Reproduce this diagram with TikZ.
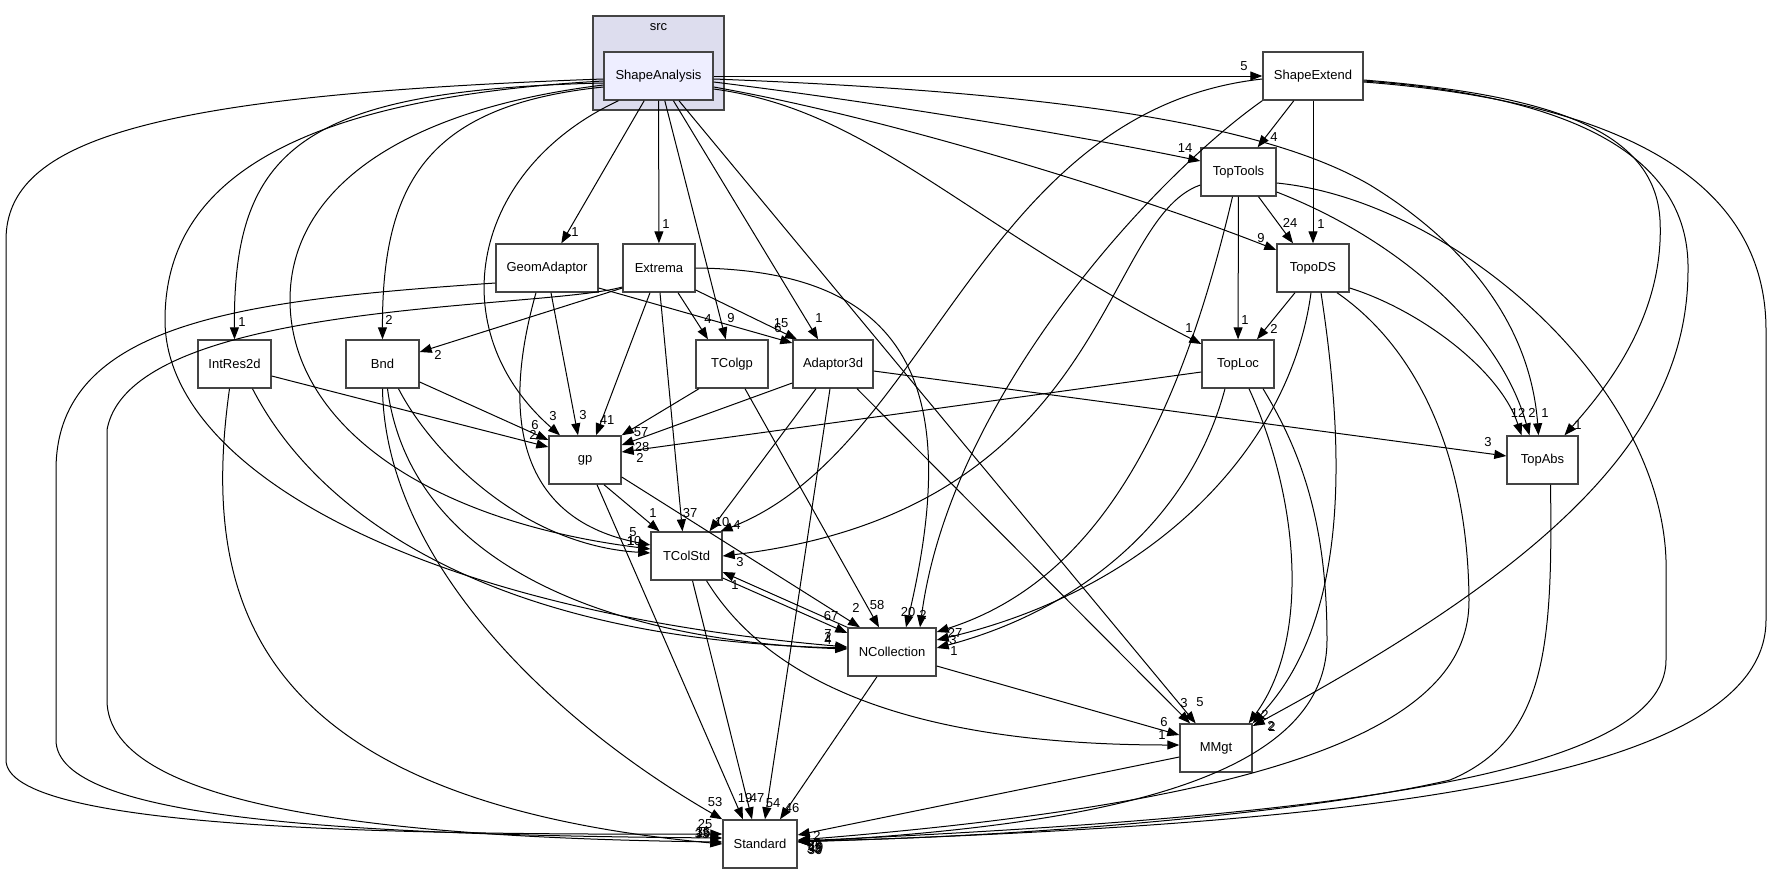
\documentclass[tikz,border=0pt]{standalone}
\usepackage{fontspec}
\setmainfont{Liberation Sans}
\usetikzlibrary{arrows.meta}
\definecolor{srcfill}{HTML}{DDDDEE}
\definecolor{curfill}{HTML}{EEEEFF}
\definecolor{boxline}{HTML}{444444}

\begin{document}
\begin{tikzpicture}[x=1pt, y=-1pt,
  dirbox/.style={draw=boxline, line width=1.4pt, fill=white, minimum width=72, minimum height=48, inner sep=0pt, font=\numfont},
  dep/.style={line width=1pt, -{Triangle[length=12pt,width=9pt]}},
  num/.style={inner sep=0pt, font=\numfont}]
\def\numfont{\fontsize{13}{13}\selectfont}

\useasboundingbox[fill=white] (0,0) rectangle (1773,873);

% the src folder
\node[draw=boxline, line width=1.4pt, fill=srcfill, minimum width=131, minimum height=94, inner sep=0pt] (src) at (658.5,63) {};
\node[num] (srcname) at (658.5,27) {src};

% directories
\node[dirbox, fill=curfill, minimum width=109] (sa) at (658.5,76) {ShapeAnalysis};
\node[dirbox, minimum width=100] (se) at (1313,76) {ShapeExtend};
\node[dirbox, minimum width=75] (tt) at (1238.5,172) {TopTools};
\node[dirbox] (tds) at (1313,268) {TopoDS};
\node[dirbox, minimum width=102] (ga) at (547,268) {GeomAdaptor};
\node[dirbox] (ex) at (659,268) {Extrema};
\node[dirbox, minimum width=73] (ir) at (234.5,364) {IntRes2d};
\node[dirbox, minimum width=73] (bnd) at (382.5,364) {Bnd};
\node[dirbox] (tcg) at (732,364) {TColgp};
\node[dirbox, minimum width=80] (a3d) at (833,364) {Adaptor3d};
\node[dirbox] (tl) at (1238,364) {TopLoc};
\node[dirbox] (gp) at (585,460) {gp};
\node[dirbox, minimum width=71] (ta) at (1542.5,460) {TopAbs};
\node[dirbox, minimum width=71] (tcs) at (686.5,556) {TColStd};
\node[dirbox, minimum width=88] (nc) at (892,652) {NCollection};
\node[dirbox] (mm) at (1216,748) {MMgt};
\node[dirbox, minimum width=74] (std) at (760,844) {Standard};

% ShapeAnalysis
\draw[dep] (sa) -- (se);
\draw[dep] ([yshift=-6]sa.east) .. controls (900,105) and (1100,140) .. ([yshift=11]tt.west);
\draw[dep] ([yshift=-11]sa.east) .. controls (900,120) and (1150,200) .. ([yshift=18]tds.west);
\draw[dep] ([yshift=-13]sa.east) .. controls (870,110) and (960,220) .. ([yshift=20]tl.west);
\draw[dep] ([yshift=-3]sa.east) .. controls (1000,90) and (1250,115) .. (1370,185)
  .. controls (1460,240) and (1530,320) .. ([xshift=-4]ta.north);
\draw[dep] (sa) -- (ga);
\draw[dep] (sa) -- (ex);
\draw[dep] (sa) -- (tcg);
\draw[dep] (sa) -- (a3d);
\draw[dep] (sa) -- (mm);
\draw[dep] ([yshift=-7]sa.west) .. controls (300,90) and (233,150) .. (ir.north);
\draw[dep] ([yshift=-11]sa.west) .. controls (430,105) and (382,180) .. (bnd.north);
\draw[dep] ([xshift=-40]sa.south) .. controls (470,170) and (440,330) .. ([xshift=-25]gp.north);
\draw[dep] ([yshift=-9]sa.west) .. controls (400,110) and (290,190) .. (290,300)
  .. controls (290,420) and (420,520) .. ([yshift=7]tcs.west);
\draw[dep] ([yshift=-5]sa.west) .. controls (260,100) and (165,200) .. (165,320)
  .. controls (165,470) and (420,610) .. ([yshift=5]nc.west);
\draw[dep] ([yshift=-3]sa.west) .. controls (150,95) and (6,140) .. (6,240) -- (6,760)
  .. controls (6,830) and (400,835) .. ([yshift=10]std.west);

% ShapeExtend
\draw[dep] (se) -- (tt);
\draw[dep] (se) -- (tds);
\draw[dep] ([yshift=-3]se.west) .. controls (980,110) and (930,450) .. ([xshift=34]tcs.north);
\draw[dep] (se.south west) .. controls (1150,180) and (950,400) .. ([xshift=28]nc.north);
\draw[dep] ([yshift=-4]se.east) .. controls (1550,95) and (1655,130) .. (1660,220)
  .. controls (1665,320) and (1600,395) .. ([xshift=22]ta.north);
\draw[dep] ([yshift=-5]se.east) .. controls (1560,95) and (1690,150) .. (1688,270)
  .. controls (1688,430) and (1560,560) .. ([yshift=22]mm.east);
\draw[dep] ([yshift=-6]se.east) .. controls (1600,100) and (1766,170) .. (1766,330) -- (1766,620)
  .. controls (1766,790) and (1300,825) .. ([yshift=2]std.east);

% TopTools
\draw[dep] ([xshift=20]tt.south) -- ([xshift=-20]tds.north);
\draw[dep] (tt) -- (tl);
\draw[dep] ([yshift=-13]tt.west) .. controls (1100,220) and (1110,510) .. (tcs.east);
\draw[dep] ([xshift=-6]tt.south) .. controls (1180,420) and (1100,580) .. ([yshift=20]nc.east);
\draw[dep] ([yshift=-20]tt.east) .. controls (1400,240) and (1500,330) .. ([xshift=-13]ta.north);
\draw[dep] ([yshift=-11]tt.east) .. controls (1450,200) and (1660,380) .. (1666,560) -- (1666,660)
  .. controls (1666,780) and (1300,818) .. ([yshift=3]std.east);

% TopoDS
\draw[dep] ([xshift=-18]tds.south) -- ([xshift=19]tl.north);
\draw[dep] ([xshift=-2]tds.south) .. controls (1290,450) and (1150,590) .. ([yshift=12]nc.east);
\draw[dep] ([xshift=8]tds.south) .. controls (1345,450) and (1350,620) .. (mm.north east);
\draw[dep] ([xshift=24]tds.south) .. controls (1420,350) and (1468,460) .. (1469,600)
  .. controls (1470,720) and (1300,800) .. ([yshift=4]std.east);
\draw[dep] ([yshift=-20]tds.east) .. controls (1420,310) and (1500,370) .. ([xshift=-21]ta.north);

% TopLoc
\draw[dep] ([yshift=-8]tl.west) -- ([yshift=8]gp.east);
\draw[dep] ([xshift=-13]tl.south) .. controls (1190,520) and (1080,610) .. ([yshift=4]nc.east);
\draw[dep] ([xshift=11]tl.south) .. controls (1300,500) and (1310,640) .. ([xshift=-4]mm.north east);
\draw[dep] ([xshift=25]tl.south) .. controls (1300,450) and (1327,520) .. (1327,640)
  .. controls (1327,780) and (1100,825) .. ([yshift=2]std.east);

% GeomAdaptor
\draw[dep] ([xshift=4]ga.south) -- ([xshift=-7]gp.north);
\draw[dep] ([xshift=-11]ga.south) .. controls (500,420) and (520,520) .. ([yshift=11]tcs.west);
\draw[dep] ([yshift=-20]ga.east) -- ([yshift=21]a3d.west);
\draw[dep] ([yshift=-15]ga.west) .. controls (250,300) and (56,320) .. (56,470) -- (56,740)
  .. controls (56,820) and (350,835) .. ([yshift=6]std.west);

% Extrema
\draw[dep] ([yshift=-20]ex.west) -- ([yshift=12]bnd.east);
\draw[dep] ([xshift=-9]ex.south) -- ([xshift=11]gp.north);
\draw[dep] ([xshift=1]ex.south) -- ([xshift=-4]tcs.north);
\draw[dep] ([xshift=19]ex.south) -- ([xshift=-24]tcg.north);
\draw[dep] ([yshift=-22]ex.east) -- ([xshift=-36]a3d.north);
\draw[dep] (ex.east) .. controls (920,270) and (960,400) .. ([xshift=14]nc.north);
\draw[dep] ([yshift=-19]ex.west) .. controls (540,310) and (130,300) .. (107,430) -- (107,700)
  .. controls (107,810) and (400,838) .. ([yshift=2]std.west);

% IntRes2d
\draw[dep] ([yshift=-12]ir.east) -- ([yshift=13]gp.west);
\draw[dep] ([xshift=18]ir.south) .. controls (320,520) and (500,640) .. ([yshift=4]nc.west);
\draw[dep] ([xshift=-5]ir.south) .. controls (200,600) and (250,800) .. (std.west);

% Bnd
\draw[dep] ([yshift=-18]bnd.east) -- ([yshift=20]gp.west);
\draw[dep] ([xshift=16]bnd.south) .. controls (430,450) and (520,545) .. ([yshift=3]tcs.west);
\draw[dep] ([xshift=5]bnd.south) .. controls (410,560) and (600,640) .. ([yshift=3]nc.west);
\draw[dep] (bnd.south) .. controls (385,560) and (550,720) .. (std.north west);

% TColgp
\draw[dep] ([xshift=-33]tcg.south) -- (gp.north east);
\draw[dep] ([xshift=13]tcg.south) -- ([xshift=-13]nc.north);

% Adaptor3d
\draw[dep] ([yshift=-19]a3d.west) -- ([yshift=15]gp.east);
\draw[dep] ([xshift=-17]a3d.south) -- ([xshift=23]tcs.north);
\draw[dep] ([xshift=-3]a3d.south) -- ([xshift=5]std.north);
\draw[dep] ([xshift=24]a3d.south) -- ([xshift=-26]mm.north);
\draw[dep] ([yshift=-7]a3d.east) -- ([yshift=4]ta.west);

% gp
\draw[dep] ([xshift=19]gp.south) -- ([xshift=-27]tcs.north);
\draw[dep] ([yshift=-17]gp.east) -- ([xshift=-32]nc.north);
\draw[dep] ([xshift=12]gp.south) -- ([xshift=-17]std.north);

% TColStd
\draw[dep] ([yshift=-22]tcs.east) -- ([yshift=19]nc.west);
\draw[dep] ([xshift=20]tcs.south) .. controls (780,700) and (950,745) .. ([yshift=3]mm.west);
\draw[dep] ([xshift=6]tcs.south) -- ([xshift=-8]std.north);

% NCollection, MMgt, TopAbs
\draw[dep] (nc.north west) -- ([yshift=-16]tcs.east);
\draw[dep] ([yshift=-14]nc.east) -- ([yshift=13]mm.west);
\draw[dep] ([xshift=-15]nc.south) -- ([xshift=20]std.north);
\draw[dep] ([yshift=-9]mm.west) -- ([yshift=9]std.east);
\draw[dep] ([xshift=8]ta.south) .. controls (1553,650) and (1545,740) .. (1450,780)
  .. controls (1300,815) and (1000,838) .. ([yshift=3]std.east);

% counts
\node[num] (n-sa-se) at (1244,66) {5};
\node[num] (n-sa-tt) at (1185,148) {14};
\node[num] (n-sa-tds) at (1261,238) {9};
\node[num] (n-sa-tl) at (1189,328) {1};
\node[num] (n-sa-ta) at (1545,413) {1};
\node[num] (n-sa-ga) at (575,232) {1};
\node[num] (n-sa-ex) at (666,224) {1};
\node[num] (n-sa-tcg) at (731,318) {9};
\node[num] (n-sa-a3d) at (819,318) {1};
\node[num] (n-sa-mm) at (1200,702) {5};
\node[num] (n-sa-ir) at (242,322) {1};
\node[num] (n-sa-bnd) at (389,320) {2};
\node[num] (n-sa-gp) at (553,416) {3};
\node[num] (n-sa-tcs) at (634,541) {10};
\node[num] (n-sa-nc) at (828,634) {7};
\node[num] (n-sa-std) at (705,824) {25};
\node[num] (n-se-tt) at (1274,137) {4};
\node[num] (n-se-tds) at (1321,224) {1};
\node[num] (n-se-tcs) at (737,525) {4};
\node[num] (n-se-nc) at (923,615) {2};
\node[num] (n-se-ta) at (1578,425) {1};
\node[num] (n-se-mm) at (1271,726) {2};
\node[num] (n-se-std) at (815,845) {36};
\node[num] (n-tt-tds) at (1290,223) {24};
\node[num] (n-tt-tl) at (1245,320) {1};
\node[num] (n-tt-tcs) at (740,562) {3};
\node[num] (n-tt-nc) at (955,633) {27};
\node[num] (n-tt-ta) at (1532,413) {2};
\node[num] (n-tt-std) at (815,848) {45};
\node[num] (n-tds-tl) at (1274,329) {2};
\node[num] (n-tds-nc) at (953,640) {3};
\node[num] (n-tds-mm) at (1265,715) {2};
\node[num] (n-tds-std) at (815,850) {30};
\node[num] (n-tds-ta) at (1518,413) {12};
\node[num] (n-tl-gp) at (640,458) {2};
\node[num] (n-tl-nc) at (954,651) {1};
\node[num] (n-tl-mm) at (1272,727) {2};
\node[num] (n-tl-std) at (816,847) {19};
\node[num] (n-ga-gp) at (583,415) {3};
\node[num] (n-ga-tcs) at (633,532) {5};
\node[num] (n-ga-a3d) at (778,328) {6};
\node[num] (n-ga-std) at (703,832) {35};
\node[num] (n-ex-bnd) at (438,355) {2};
\node[num] (n-ex-gp) at (607,420) {41};
\node[num] (n-ex-tcs) at (690,513) {37};
\node[num] (n-ex-tcg) at (708,319) {4};
\node[num] (n-ex-a3d) at (781,323) {15};
\node[num] (n-ex-nc) at (908,612) {20};
\node[num] (n-ex-std) at (703,833) {16};
\node[num] (n-ir-gp) at (533,435) {2};
\node[num] (n-ir-nc) at (828,637) {2};
\node[num] (n-ir-std) at (702,834) {33};
\node[num] (n-bnd-gp) at (535,425) {6};
\node[num] (n-bnd-tcs) at (631,541) {1};
\node[num] (n-bnd-nc) at (828,640) {4};
\node[num] (n-bnd-std) at (715,802) {53};
\node[num] (n-tcg-gp) at (641,432) {57};
\node[num] (n-tcg-nc) at (877,605) {58};
\node[num] (n-a3d-gp) at (642,447) {28};
\node[num] (n-a3d-tcs) at (722,522) {10};
\node[num] (n-a3d-std) at (773,803) {54};
\node[num] (n-a3d-mm) at (1184,703) {3};
\node[num] (n-a3d-ta) at (1488,442) {3};
\node[num] (n-gp-tcs) at (653,513) {1};
\node[num] (n-gp-nc) at (856,608) {2};
\node[num] (n-gp-std) at (745,798) {19};
\node[num] (n-tcs-nc) at (831,616) {67};
\node[num] (n-tcs-mm) at (1162,735) {1};
\node[num] (n-tcs-std) at (757,798) {47};
\node[num] (n-nc-tcs) at (735,585) {1};
\node[num] (n-nc-mm) at (1164,722) {6};
\node[num] (n-nc-std) at (792,808) {46};
\node[num] (n-mm-std) at (817,836) {2};
\node[num] (n-ta-std) at (814,849) {33};

\end{tikzpicture}
\end{document}
